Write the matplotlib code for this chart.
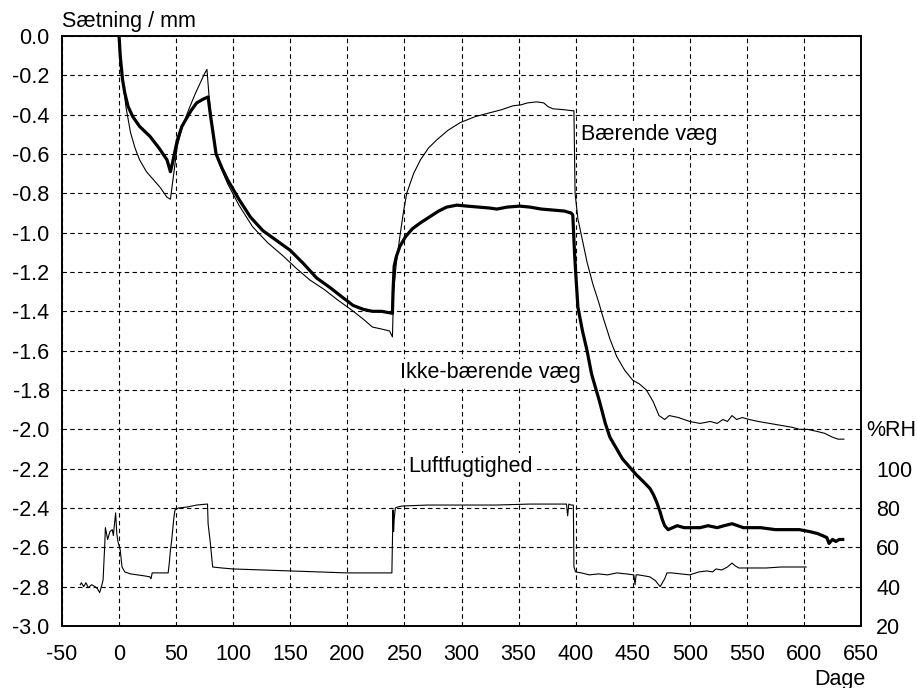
import numpy as np
import matplotlib.pyplot as plt

plt.rcParams['font.family'] = ['Liberation Sans', 'DejaVu Sans']
plt.rcParams['axes.unicode_minus'] = False

# Baerende vaeg (thin line): (day, settlement mm)
baer = [(0, 0.0), (1, -0.12), (3.6, -0.24), (6, -0.36), (10, -0.49), (14, -0.57), (18, -0.63),
        (24, -0.69), (30, -0.73), (36, -0.77), (42, -0.82), (45, -0.83), (47, -0.74), (51, -0.56),
        (56, -0.45), (62, -0.36), (67, -0.29), (71, -0.24), (75, -0.19), (77, -0.17), (79, -0.32),
        (82, -0.48), (85, -0.6), (90, -0.68), (95, -0.75), (105, -0.86), (117, -0.97), (130, -1.05),
        (144, -1.12), (155, -1.18), (167, -1.24), (180, -1.29), (191, -1.34), (203, -1.39),
        (214, -1.44), (222, -1.48), (230, -1.49), (237, -1.5), (239.5, -1.53), (240.5, -1.3),
        (243, -1.15), (246, -1.02), (249, -0.9), (252, -0.8), (258, -0.7), (264, -0.63),
        (271, -0.57), (278, -0.53), (288, -0.48), (299, -0.44), (312, -0.41), (325, -0.39),
        (335, -0.375), (345, -0.355), (352, -0.35), (358, -0.34), (366, -0.335), (372, -0.34),
        (376, -0.36), (380, -0.37), (390, -0.375), (397, -0.38), (398.5, -0.38), (399.5, -0.8),
        (402, -0.93), (406, -1.04), (410, -1.15), (415, -1.26), (420, -1.35), (424, -1.43),
        (430, -1.54), (436, -1.63), (443, -1.7), (450, -1.75), (456, -1.77), (462, -1.8),
        (468, -1.86), (473, -1.93), (478, -1.95), (482, -1.93), (490, -1.94), (500, -1.96),
        (509, -1.97), (518, -1.96), (524, -1.97), (529, -1.95), (533, -1.96), (537, -1.93),
        (541, -1.95), (546, -1.94), (552, -1.95), (560, -1.96), (570, -1.97), (580, -1.98),
        (590, -1.99), (596, -2.0), (603, -2.0), (611, -2.01), (618, -2.02), (625, -2.04),
        (630, -2.05), (635, -2.05)]

# Ikke-baerende vaeg (thick line)
ikke = [(0, 0.0), (1, -0.1), (3, -0.22), (5, -0.29), (8, -0.36), (12, -0.41), (18, -0.46),
        (27, -0.51), (35, -0.57), (42, -0.63), (45, -0.69), (47, -0.64), (51, -0.53), (55, -0.46),
        (58, -0.43), (63, -0.38), (68, -0.34), (74, -0.32), (78, -0.31), (80, -0.4), (82, -0.48),
        (85, -0.6), (90, -0.67), (95, -0.73), (105, -0.83), (115, -0.92), (126, -0.99),
        (138, -1.04), (150, -1.09), (162, -1.16), (173, -1.23), (185, -1.28), (196, -1.33),
        (205, -1.37), (214, -1.39), (222, -1.4), (230, -1.4), (239.5, -1.41), (240, -1.3),
        (241, -1.17), (243, -1.12), (246, -1.07), (251, -1.02), (257, -0.98), (264, -0.95),
        (272, -0.92), (280, -0.89), (287, -0.87), (296, -0.86), (305, -0.865), (315, -0.87),
        (325, -0.875), (331, -0.88), (340, -0.87), (351, -0.865), (360, -0.87), (370, -0.88),
        (380, -0.885), (390, -0.89), (396, -0.9), (397.5, -0.91), (399, -1.1), (400, -1.2),
        (402, -1.38), (406, -1.5), (410, -1.6), (414, -1.72), (418, -1.8), (421, -1.86),
        (426, -1.97), (430, -2.04), (436, -2.1), (441, -2.15), (447, -2.19), (453, -2.23),
        (460, -2.27), (465, -2.3), (468, -2.33), (471, -2.37), (474, -2.42), (476, -2.46),
        (478, -2.49), (481, -2.51), (485, -2.5), (489, -2.49), (495, -2.5), (502, -2.5),
        (509, -2.5), (516, -2.49), (524, -2.5), (530, -2.49), (537, -2.48), (542, -2.49),
        (547, -2.5), (552, -2.5), (562, -2.5), (575, -2.51), (588, -2.51), (596, -2.51),
        (605, -2.52), (612, -2.53), (616, -2.54), (620, -2.55), (622, -2.58), (625, -2.56),
        (628, -2.57), (631, -2.56), (634, -2.56)]

# Luftfugtighed (%RH)
rh = [(-34, 41), (-33, 42), (-31, 40), (-29, 42), (-27, 39.5), (-24, 41), (-21, 40), (-19, 39),
      (-17, 37), (-15, 41), (-14, 43.5), (-12.5, 62), (-12, 70), (-10, 64), (-8, 68), (-6, 69),
      (-5, 66), (-4, 72), (-3, 77.5), (-2, 67), (-1, 63), (1, 58.6), (2.6, 50), (5, 47.5),
      (10, 46.5), (16, 46), (22, 45.5), (27, 45), (28, 44), (29, 47), (36, 47), (43, 47),
      (44, 52), (45, 58.6), (46, 63), (48, 75), (49, 79), (52, 80), (59.5, 80.5), (68, 81.5),
      (77, 82), (77.5, 82), (78, 72), (80, 62), (82, 50), (90, 49.5), (100, 49), (125, 48.5),
      (150, 48), (175, 47.5), (199, 47), (220, 47), (239, 47), (240, 79), (240.5, 68), (241, 74),
      (242, 80), (244, 80.5), (248, 81), (270, 81.5), (300, 81.5), (330, 81.5), (360, 82),
      (385, 82), (392, 82), (393, 76), (394, 82), (396, 81.5), (398, 81.5), (398.5, 50),
      (400, 47.5), (405, 47), (412, 46), (420, 46.5), (428, 46), (436, 47), (444, 46.5),
      (451, 46), (452, 41), (453, 46), (455, 46), (460, 45.5), (465, 45), (470, 43), (474, 40),
      (478, 44), (480, 47), (484, 47), (492, 46.5), (500, 46), (508, 47.5), (515, 48),
      (520, 47.5), (523, 49), (528, 48.5), (533, 50), (537, 52), (540, 50.5), (543, 49.5),
      (546, 49.5), (550, 49.5), (560, 49.5), (567, 49.5), (580, 50), (592, 50), (602, 50)]

x_ticks = np.arange(-50, 651, 50)
y_ticks = np.round(np.arange(0, -3.01, -0.2), 1)
rh_ticks = [20, 40, 60, 80, 100]

baer_day, baer_mm = zip(*baer)
ikke_day, ikke_mm = zip(*ikke)
rh_day, rh_val = zip(*rh)

fs = 15.5
box = dict(facecolor='white', edgecolor='none', pad=2)

fig = plt.figure(figsize=(9.17, 6.88), dpi=100)
ax = fig.add_axes([62 / 917, 1 - 626 / 688, (861 - 62) / 917, (626 - 36) / 688])

ax.plot(baer_day, baer_mm, color='black', lw=0.8)
ax.plot(ikke_day, ikke_mm, color='black', lw=2.3)

ax.set_xlim(-50, 650)
ax.set_ylim(-3.0, 0.0)
ax.set_xticks(x_ticks)
ax.set_yticks(y_ticks)
ax.set_yticklabels(['%.1f' % v if v != 0 else '0.0' for v in y_ticks])
ax.grid(True, color='black', linestyle=(0, (4, 3)), lw=0.8)
ax.tick_params(axis='both', length=0, labelsize=fs)
ax.tick_params(axis='y', pad=9)
ax.tick_params(axis='x', pad=13)
for sp in ax.spines.values():
    sp.set_linewidth(1.2)

ax2 = ax.twinx()
ax2.plot(rh_day, rh_val, color='black', lw=0.8)
ax2.set_ylim(20, 320)
ax2.set_yticks(rh_ticks)
ax2.tick_params(axis='y', length=0, labelsize=fs, pad=11)
for sp in ax2.spines.values():
    sp.set_linewidth(1.2)

ax.text(405, -0.5, 'Bærende væg', fontsize=fs, va='center', ha='left', bbox=box)
ax.text(246, -1.71, 'Ikke-bærende væg', fontsize=fs, va='center', ha='left', bbox=box)
ax.text(253, -2.19, 'Luftfugtighed', fontsize=fs, va='center', ha='left', bbox=box)

fig.text(62 / 917, 1 - 22 / 688, 'Sætning / mm', fontsize=fs, va='center', ha='left')
fig.text(866 / 917, 1 - 431 / 688, '%RH', fontsize=fs, va='center', ha='left')
fig.text(840 / 917, 1 - 679 / 688, 'Dage', fontsize=fs, va='center', ha='center')

fig.savefig('out.png', dpi=100)
